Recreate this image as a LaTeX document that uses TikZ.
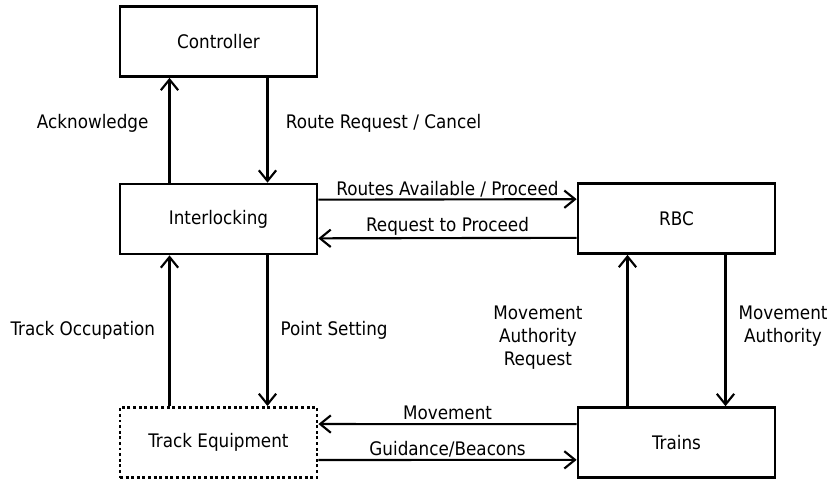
\documentclass[tikz,border=0pt]{standalone}
\usepackage{fontspec}
\setmainfont{DejaVu Sans Condensed}
\usetikzlibrary{arrows.meta,positioning,calc}

\tikzset{
  block/.style={draw,line width=2pt,minimum width=147.75pt,minimum height=52.5pt,inner sep=0pt},
  flow/.style={line width=1.6pt,-{Straight Barb[length=8pt,width=13pt,line width=1.6pt]}},
  lbl/.style={inner sep=1pt,align=center}
}

\begin{document}
\begin{tikzpicture}[x=0.75pt,y=-0.75pt,font=\fontsize{14}{17.25}\selectfont]
    \useasboundingbox (0,0) rectangle (827,480);
    % blocks
    \node[block] (ctrl) at (218.5,41.5) {Controller};
    \node[block] (ilk) at (218.5,219) {Interlocking};
    \node[block] (rbc) at (676.5,218.5) {RBC};
    \node[block,line width=2.2pt,dash pattern=on 2.2pt off 2pt] (teq) at (218.5,442.5) {Track Equipment};
    \node[block] (trains) at (676.5,442.5) {Trains};
    % controller <-> interlocking
    \draw[flow] ([xshift=-36.75pt]ilk.north) -- ([xshift=-36.75pt]ctrl.south)
      node[lbl,pos=0.57,left=14pt] (lack) {Acknowledge};
    \draw[flow] ([xshift=36.75pt]ctrl.south) -- ([xshift=36.75pt]ilk.north)
      node[lbl,pos=0.43,right=12pt] (lreq) {Route Request / Cancel};
    % interlocking <-> track equipment
    \draw[flow] ([xshift=-36.75pt]teq.north) -- ([xshift=-36.75pt]ilk.south)
      node[lbl,midway,left=9pt] (locc) {Track Occupation};
    \draw[flow] ([xshift=36.75pt]ilk.south) -- ([xshift=36.75pt]teq.north)
      node[lbl,midway,right=8pt] (lpts) {Point Setting};
    % interlocking <-> RBC
    \draw[flow] ([yshift=-12.75pt]ilk.north east) -- ([yshift=-12.75pt]rbc.north west)
      node[lbl,midway,above] (lavl) {Routes Available / Proceed};
    \draw[flow] ([yshift=12.75pt]rbc.south west) -- ([yshift=12.75pt]ilk.south east)
      node[lbl,midway,above] (lptr) {Request to Proceed};
    % RBC <-> trains
    \draw[flow] ([xshift=-36.75pt]trains.north) -- ([xshift=-36.75pt]rbc.south)
      node[lbl,pos=0.45,left=32pt] (lmar) {Movement\\Authority\\Request};
    \draw[flow] ([xshift=36.75pt]rbc.south) -- ([xshift=36.75pt]trains.north)
      node[lbl,pos=0.47,right=8pt] (lma) {Movement\\Authority};
    % trains <-> track equipment
    \draw[flow] ([yshift=-13.5pt]trains.north west) -- ([yshift=-13.5pt]teq.north east)
      node[lbl,midway,above,yshift=1.5pt] (lmov) {Movement};
    \draw[flow] ([yshift=14.25pt]teq.south east) -- ([yshift=14.25pt]trains.south west)
      node[lbl,midway,above] (lgui) {Guidance/Beacons};
\end{tikzpicture}
\end{document}
